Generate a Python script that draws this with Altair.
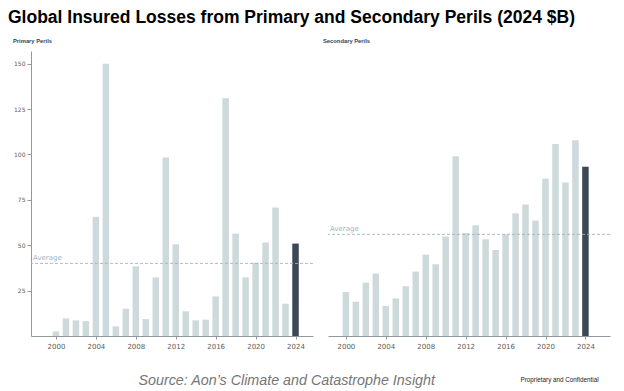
import altair as alt
import pandas as pd

years = list(range(2000, 2025))
primary = [2.5, 9.7, 8.6, 8.2, 65.6, 150.0, 5.3, 15.0, 38.4, 9.3, 32.3, 98.3, 50.5,
           13.6, 8.6, 9.0, 21.8, 131.0, 56.4, 32.3, 40.4, 51.5, 70.8, 17.8, 50.9]
secondary = [24.2, 18.9, 29.4, 34.4, 16.5, 20.7, 27.4, 35.5, 44.8, 39.5, 54.8, 99.0, 56.8,
             61.0, 53.3, 47.4, 56.0, 67.6, 72.4, 63.6, 86.6, 105.7, 84.5, 107.9, 93.2]
averages = [40, 56]
panel_titles = ["Primary Perils", "Secondary Perils"]
year_ticks = [2000, 2004, 2008, 2012, 2016, 2020, 2024]
y_ticks = [25, 50, 75, 100, 125, 150]
main_title = "Global Insured Losses from Primary and Secondary Perils (2024 $B)"
source_text = "Source: Aon\u2019s Climate and Catastrophe Insight"
conf_text = "Proprietary and Confidential"

LIGHT = "#cdd9db"
DARK = "#3c4854"
AVG = "#a3b6bb"
AXIS = "#8f999f"
LABEL = "#5b5b5b"


def make_df(vals):
    return pd.DataFrame({
        "year": years,
        "loss": vals,
        "kind": ["current" if y == 2024 else "past" for y in years],
    })


def panel(vals, avg, title, xdomain, show_y, x_title, x_title_style, title_dx):
    df = make_df(vals)
    avg_df = pd.DataFrame({"loss": [avg], "label": ["Average"]})
    yscale = alt.Scale(domain=[0, 157], nice=False, zero=True)
    if show_y:
        yaxis = alt.Axis(values=y_ticks, title=None, grid=False, domainColor=AXIS,
                         tickColor=AXIS, tickSize=4, labelPadding=2, labelFontSize=6,
                         labelFont="DejaVu Sans", labelColor=LABEL, domainWidth=1)
    else:
        yaxis = None
    xaxis = alt.Axis(values=year_ticks, format="d", grid=False, domainColor=AXIS,
                     tickColor=AXIS, tickSize=3, labelPadding=3, labelFontSize=7,
                     labelFont="DejaVu Sans", labelColor=LABEL, labelFlush=False,
                     title=x_title, **x_title_style)
    bars = alt.Chart(df).mark_bar(size=6.5).encode(
        x=alt.X("year:Q", scale=alt.Scale(domain=xdomain, nice=False, zero=False), axis=xaxis),
        y=alt.Y("loss:Q", scale=yscale, axis=yaxis),
        color=alt.Color("kind:N", scale=alt.Scale(domain=["past", "current"], range=[LIGHT, DARK]),
                        legend=None),
    )
    rule = alt.Chart(avg_df).mark_rule(strokeDash=[3, 2], color=AVG, strokeWidth=0.9).encode(
        y=alt.Y("loss:Q", scale=yscale, axis=yaxis),
    )
    text = alt.Chart(avg_df).mark_text(align="left", baseline="bottom", dy=-2, fontSize=7,
                                       font="DejaVu Sans", color=AVG).encode(
        x=alt.value(2),
        y=alt.Y("loss:Q", scale=yscale, axis=yaxis),
        text="label:N",
    )
    return alt.layer(bars, rule, text).properties(
        width=282, height=285,
        title=alt.TitleParams(title, anchor="start", frame="group", dx=title_dx,
                              fontSize=5.8, fontWeight="bold", color="#3a4450",
                              font="Liberation Sans", offset=7),
    )


left = panel(primary, averages[0], panel_titles[0], [1998, 2025.25], True, source_text,
             dict(titleX=107, titleY=48, titleAlign="left", titleBaseline="alphabetic",
                  titleFont="Liberation Sans", titleFontSize=14.3, titleFontStyle="italic",
                  titleFontWeight="normal", titleColor="#767676"), -18)
right = panel(secondary, averages[1], panel_titles[1], [1998.71, 2025.96], False, conf_text,
              dict(titleX=192, titleY=45, titleAlign="left", titleBaseline="alphabetic",
                   titleFont="Liberation Sans", titleFontSize=6.3,
                   titleFontWeight="normal", titleColor="#222222"), -5)

chart = alt.hconcat(left, right, spacing=15, bounds="flush").properties(
    title=alt.TitleParams(main_title, anchor="start", frame="bounds", dx=-5,
                          fontSize=17.5, fontWeight="bold", font="Liberation Sans",
                          color="#000000", offset=12),
    padding={"left": 0, "top": 0, "right": 0, "bottom": 0},
).configure_view(stroke=None)

chart.save("out.html", embed_options={"renderer": "svg", "actions": False})
